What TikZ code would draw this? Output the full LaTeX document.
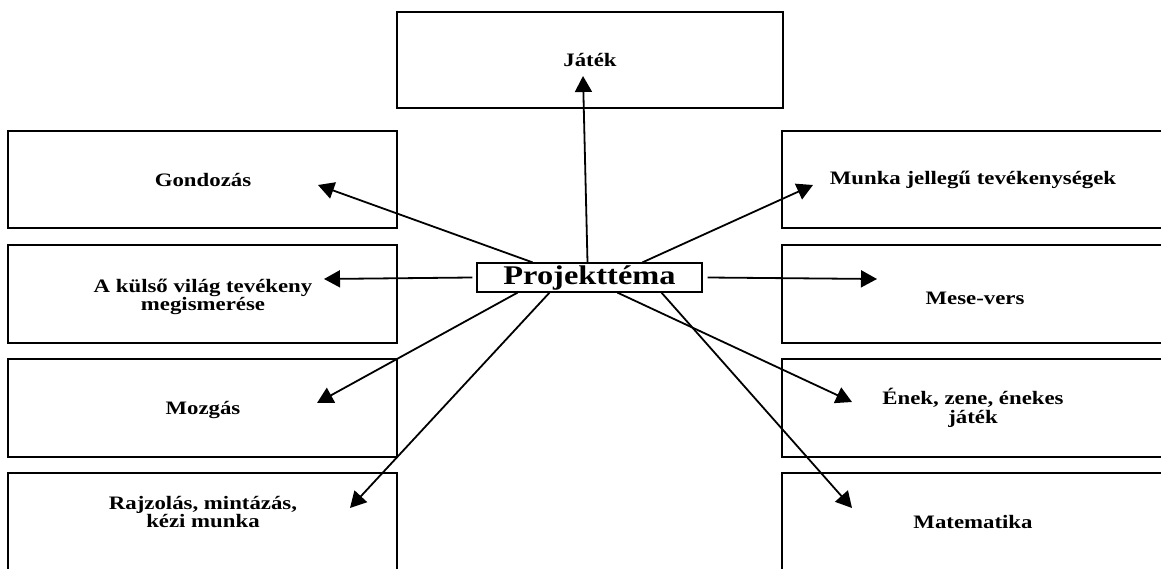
\documentclass[tikz,border=0pt]{standalone}
\usepackage{fontspec}
\setmainfont{Liberation Serif}[FakeStretch=1.2]
\usetikzlibrary{arrows.meta}
\begin{document}
\begin{tikzpicture}[x=1pt,y=-1pt,>={Triangle[length=16pt,width=17pt]},
		box/.style={draw,line width=1.3pt},
		lbl/.style={font=\bfseries\fontsize{19}{18.5}\selectfont,align=center,inner sep=0pt},
		arr/.style={black,->,line width=1.8pt}]
		\useasboundingbox (0,0) rectangle (1161,569);
		\clip (0,0) rectangle (1161,569);
		% boxes
		\draw [box] (397,12) rectangle (783,108);
		\foreach \t/\b in {131/228,245/343,359/457,473/585}{
			\draw [box] (8,\t) rectangle (397,\b);
			\draw [box] (782,\t) rectangle (1185,\b);}
		% labels
		\node [lbl] (jatek) at (590,60) {Játék};
		\node [lbl] (gond) at (203,180) {Gondozás};
		\node [lbl] (kulso) at (203,297) {A külső világ tevékeny\\megismerése};
		\node [lbl] (mozg) at (203,410) {Mozgás};
		\node [lbl] (rajz) at (203,512) {Rajzolás, mintázás,\\kézi munka};
		\node [lbl] (munka) at (973,180) {Munka jellegű tevékenységek};
		\node [lbl] (mese) at (975,298) {Mese-vers};
		\node [lbl] (enek) at (973,408) {Ének, zene, énekes\\játék};
		\node [lbl] (mat) at (973,522) {Matematika};
		\node [draw,line width=1.3pt,minimum width=225pt,minimum height=29pt,inner sep=0pt,
			font=\bfseries\fontsize{27}{28}\selectfont] (proj) at (589.5,277.5) {Projekttéma};
		% arrow tips
		\coordinate (tjatek) at (583,76);
		\coordinate (tgond) at (318,185);
		\coordinate (tmunka) at (813,185);
		\coordinate (tkulso) at (324,279);
		\coordinate (tmese) at (877,279);
		\coordinate (tmozg) at (317,403);
		\coordinate (trajz) at (350,508);
		\coordinate (tenek) at (852,402);
		\coordinate (tmat) at (852,508);
		\draw [arr] ([xshift=-2pt]proj.north) -- (tjatek);
		\draw [arr] ([xshift=-57pt]proj.north) -- (tgond);
		\draw [arr] ([xshift=53pt]proj.north) -- (tmunka);
		\draw [arr] ([xshift=-4pt]proj.west) -- (tkulso);
		\draw [arr] ([xshift=5pt]proj.east) -- (tmese);
		\draw [arr] ([xshift=-72pt]proj.south) -- (tmozg);
		\draw [arr] ([xshift=-40pt]proj.south) -- (trajz);
		\draw [arr] ([xshift=28pt]proj.south) -- (tenek);
		\draw [arr] ([xshift=72pt]proj.south) -- (tmat);
		\end{tikzpicture}
\end{document}
